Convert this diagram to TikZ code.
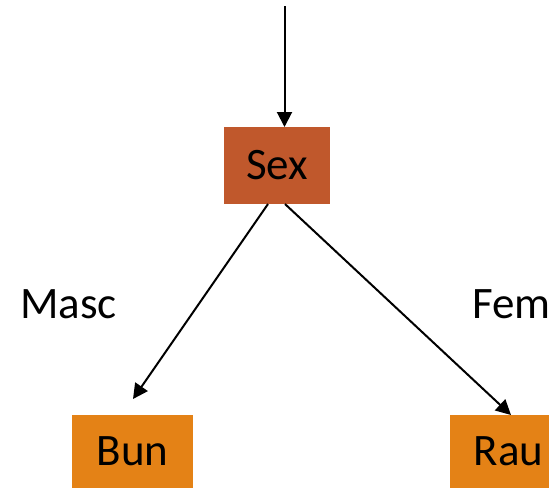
\documentclass[tikz,border=0pt]{standalone}
\usepackage{fontspec}
\setmainfont{Carlito}
\usetikzlibrary{arrows.meta}
\definecolor{sexfill}{HTML}{C0582C}
\definecolor{leaffill}{HTML}{E48216}
\begin{document}
\begin{tikzpicture}[x=1pt,y=-1pt,
  box/.style={rectangle,inner sep=0pt,minimum width=#1,font=\fontsize{45}{54}\selectfont},
  lbl/.style={inner sep=0pt,anchor=base west,font=\fontsize{45}{54}\selectfont},
  arr/.style={line width=2pt,-{Triangle[length=15pt,width=15pt]}}]
\clip (0,0) rectangle (549,488);
\fill[white] (0,0) rectangle (549,488);
\node[box=106pt,minimum height=77pt,fill=sexfill] (sex) at (277,165.5) {Sex};
\node[box=121pt,minimum height=73pt,fill=leaffill] (bun) at (132.5,451.5) {Bun};
\node[box=117pt,minimum height=73pt,fill=leaffill] (rau) at (508.5,451.5) {Rau};
\node[lbl] (masc) at (20,318) {Masc};
\node[lbl] (fem) at (472,318) {Fem};
\coordinate (top) at (284.5,6);
\coordinate (sexin) at (284.5,127);
\coordinate (sl) at (268,204);
\coordinate (sr) at (285,204);
\coordinate (bunin) at (133,399);
\coordinate (rauin) at (511,415);
\draw[arr] (top) -- (sexin);
\draw[arr] (sl) -- (bunin);
\draw[arr] (sr) -- (rauin);
\end{tikzpicture}
\end{document}
